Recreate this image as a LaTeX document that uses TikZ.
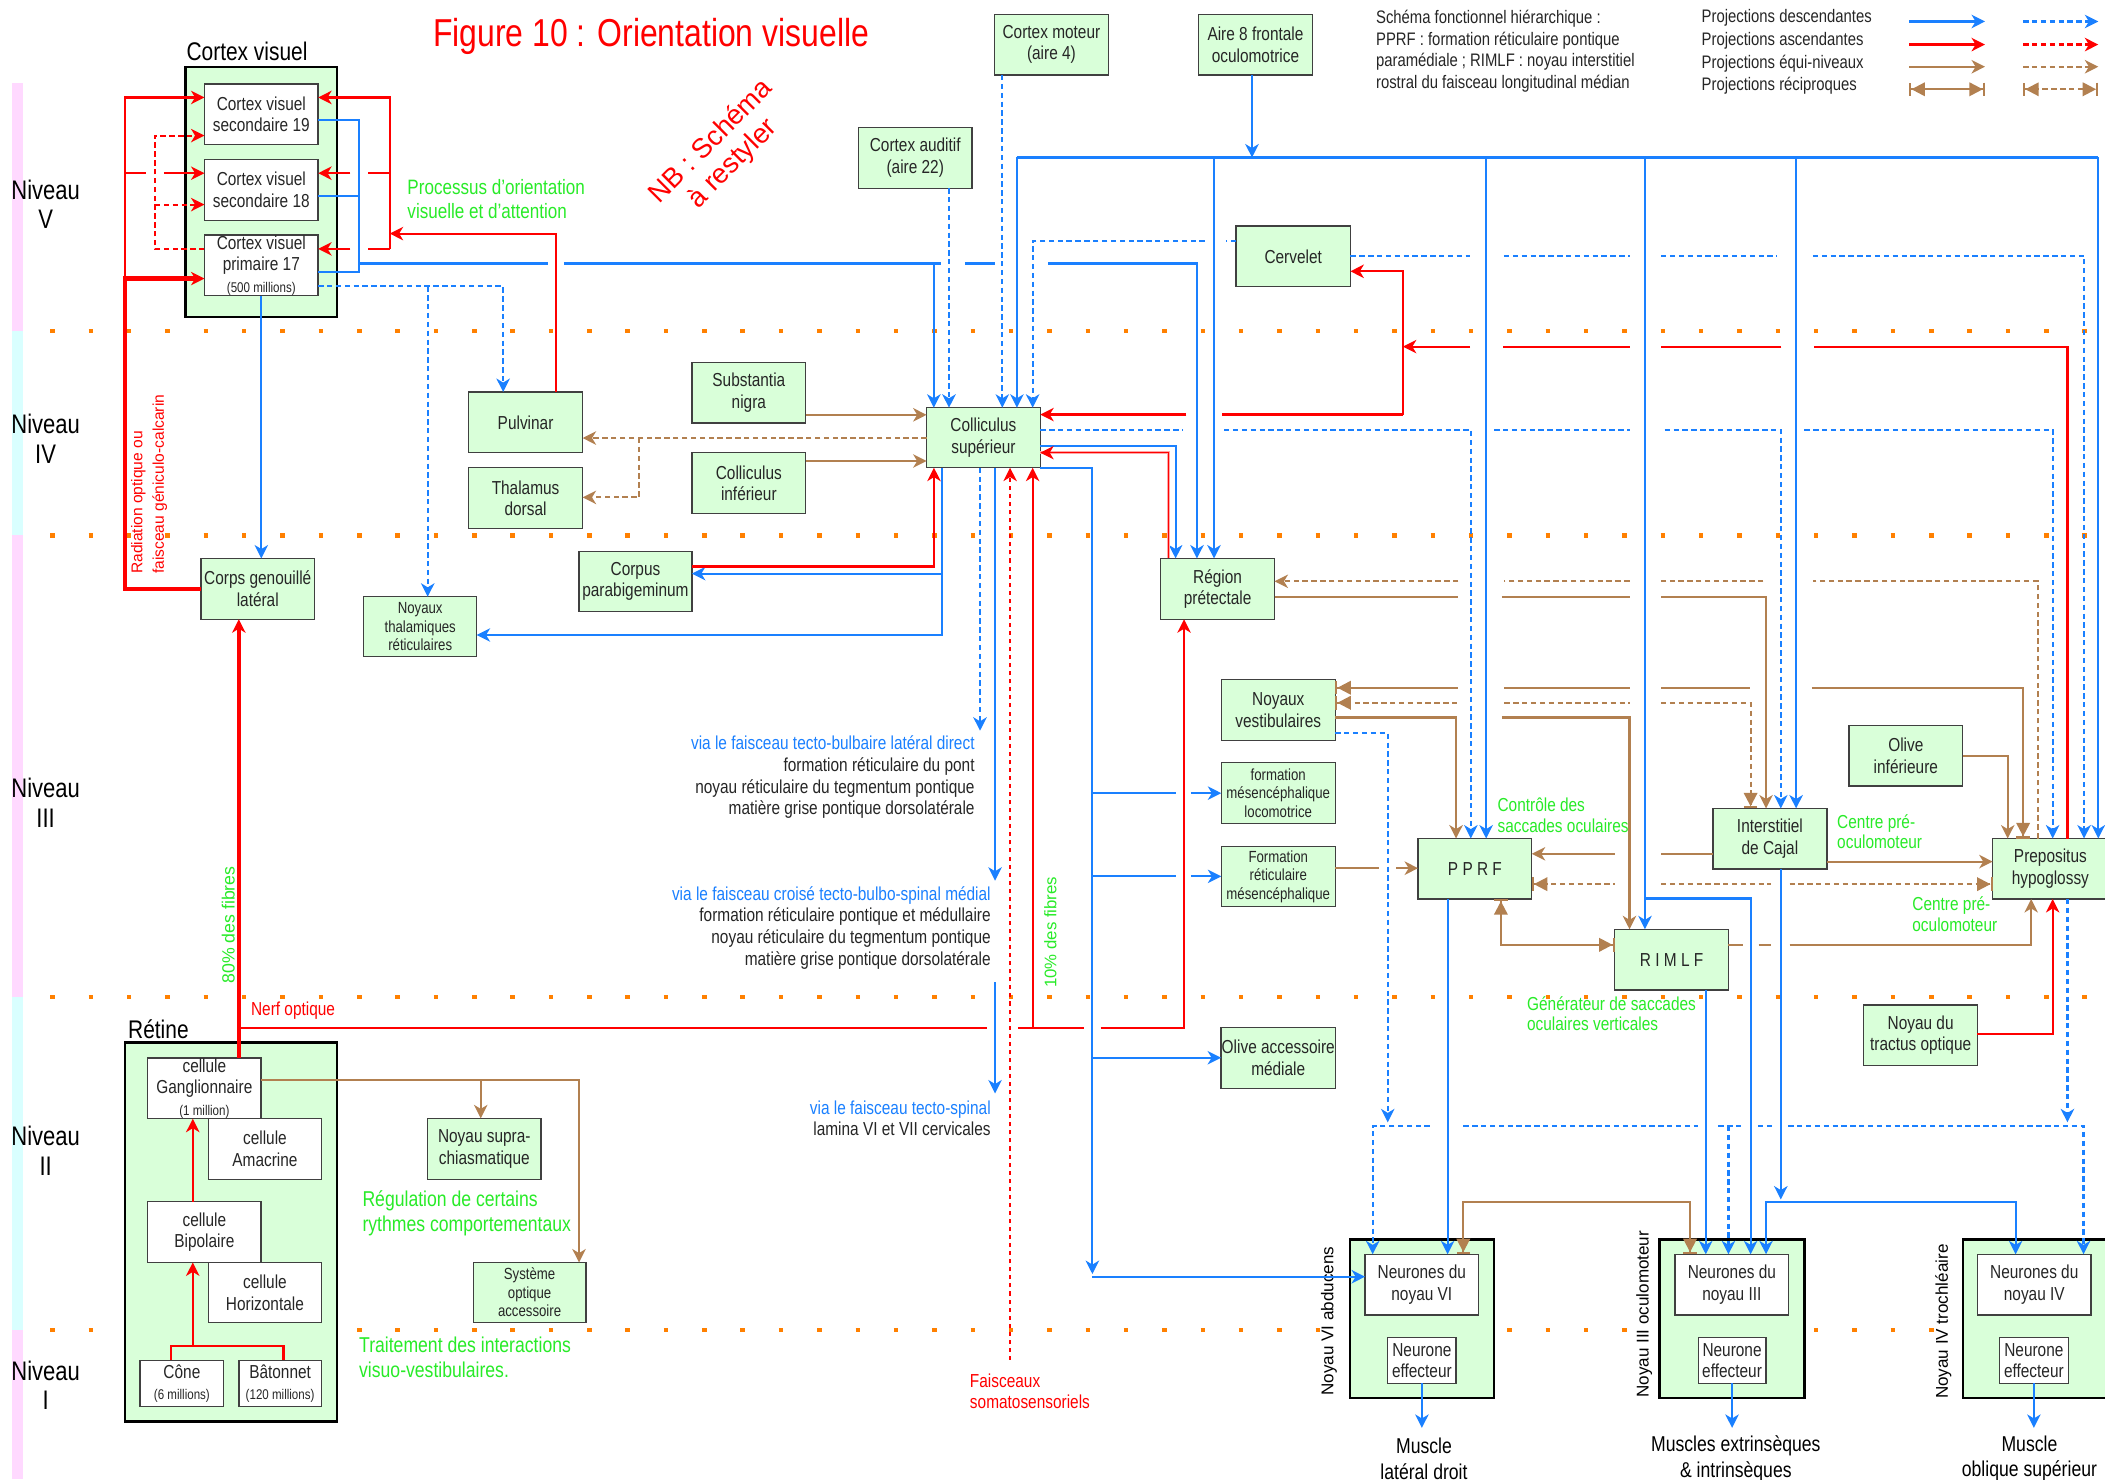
\documentclass[tikz,border=0pt]{standalone}
\usepackage{fontspec}
\setmainfont{Liberation Sans}[FakeStretch=0.82]
\newfontfamily\widefont{Liberation Sans}
\usetikzlibrary{arrows.meta,positioning}

\definecolor{cblue}{RGB}{26,128,255}
\definecolor{cred}{RGB}{255,0,0}
\definecolor{cbrown}{RGB}{178,128,80}
\definecolor{cgreen}{RGB}{40,235,40}
\definecolor{corange}{RGB}{255,128,0}
\definecolor{boxgreen}{RGB}{217,255,217}
\definecolor{bandpink}{RGB}{255,217,255}
\definecolor{bandcyan}{RGB}{217,255,255}

\newcommand\boxtxt{\fontsize{14}{16}\selectfont}
\newcommand\smalltxt{\fontsize{12}{13.8}\selectfont}
\newcommand\mintxt{\fontsize{10.5}{12}\selectfont}
\newcommand\lbltxt{\fontsize{14}{15.5}\selectfont}
\newcommand\viatxt{\fontsize{14}{16.2}\selectfont}

\tikzset{
  box/.style={draw=black!75, fill=boxgreen, line width=1pt, inner sep=0.5pt, outer sep=0pt,
    align=center, text=black!85, font=\boxtxt},
  cell/.style={box, fill=white},
  bigbox/.style={draw=black, line width=2pt, fill=boxgreen, inner sep=0pt, outer sep=0pt},
  sz/.style 2 args={minimum width=#1pt, minimum height=#2pt},
  desc/.style={draw=cblue, line width=1.6pt},
  asc/.style={draw=cred, line width=1.6pt},
  equi/.style={draw=cbrown, line width=1.6pt},
  dsh/.style={dash pattern=on 4pt off 2.6pt},
  recip/.style={{Bar[width=10pt]Triangle[length=10pt,width=10pt]}-{Triangle[length=10pt,width=10pt]Bar[width=10pt]}},
  recipstart/.style={{Bar[width=10pt]Triangle[length=10pt,width=10pt]}-},
  recipend/.style={-{Triangle[length=10pt,width=10pt]Bar[width=10pt]}},
  note/.style={font=\lbltxt, text=cgreen, align=left, anchor=west},
  levelrow/.style={corange, line width=3.3pt, dash pattern=on 3.3pt off 25.26pt},
}

\begin{document}
\begin{tikzpicture}[x=1pt, y=-1pt, >={Stealth[length=10pt,width=10pt,inset=3pt]}]
\path[use as bounding box, fill=white] (0,0) rectangle (1568,1102);

% bandes et niveaux
\fill[bandpink] (9,62) rectangle (17,246.5);
\fill[bandcyan] (9,246.5) rectangle (17,398.8);
\fill[bandpink] (9,398.8) rectangle (17,742.8);
\fill[bandcyan] (9,742.8) rectangle (17,990.5);
\fill[bandpink] (9,990.5) rectangle (17,1102);
\foreach \y in {246.5,398.8,742.8,990.5}
  \draw[levelrow] (37.5,\y) -- (1572,\y);
\foreach \y/\n in {152/V,327/IV,598/III,857/II,1032/I}
  \node[font=\fontsize{20}{22}\selectfont, align=center] (niv\n) at (34,\y) {Niveau\\\n};

% niveau V
\node[font=\fontsize{19}{21}\selectfont] (cvtitle) at (184,38.5) {Cortex visuel};
\node[bigbox, sz={112.7}{186.4}] (cvbox) at (194.65,143) {};
\node[cell, sz={84.7}{45.2}] (cv19) at (194.65,85.1) {Cortex visuel\\secondaire 19};
\node[cell, sz={84.7}{45.2}] (cv18) at (194.65,141.5) {Cortex visuel\\secondaire 18};
\node[cell, sz={84.7}{45.2}] (cv17) at (194.65,197.6) {Cortex visuel\\primaire 17\\{\mintxt (500 millions)}};
\node[box, sz={84.5}{45.2}] (caud) at (681.75,117.6) {Cortex auditif\\(aire 22)};
\node[box, sz={84.8}{45.3}] (cmot) at (783.2,33.25) {Cortex moteur\\(aire 4)};
\node[box, sz={85.2}{45.3}] (aire8) at (935.2,33.25) {Aire 8 frontale\\oculomotrice};
\node[box, sz={85.2}{45.2}] (cerv) at (963.3,191) {Cervelet};

% niveau IV
\node[box, sz={85}{45.2}] (pulv) at (391.5,314.6) {Pulvinar};
\node[box, sz={85}{45.2}] (thal) at (391.5,371) {Thalamus\\dorsal};
\node[box, sz={84.8}{45.2}] (snigra) at (557.8,292.55) {Substantia\\nigra};
\node[box, sz={84.8}{45.2}] (colinf) at (557.8,359.8) {Colliculus\\inférieur};
\node[box, sz={84.7}{44.7}] (colsup) at (732.55,326.05) {Colliculus\\supérieur};

% niveau III
\node[box, sz={84.8}{45.3}] (cgl) at (192,438.65) {Corps genouillé\\latéral};
\node[box, sz={84.1}{44.7}, font=\smalltxt] (ntr) at (313,466.85) {Noyaux\\thalamiques\\réticulaires};
\node[box, sz={84.1}{44.6}] (corpus) at (473.35,433.1) {Corpus\\parabigeminum};
\node[box, sz={84.8}{45.3}] (regp) at (907,438.65) {Région\\prétectale};
\node[box, sz={84.9}{45.2}] (nvest) at (952.15,528.8) {Noyaux\\vestibulaires};
\node[box, sz={84.9}{45.2}, font=\smalltxt] (fml) at (952.15,590.8) {formation\\mésencéphalique\\locomotrice};
\node[box, sz={84.9}{45}, font=\smalltxt] (frm) at (952.15,652.9) {Formation\\réticulaire\\mésencéphalique};
\node[box, sz={84.7}{45.1}] (pprf) at (1098.65,647.15) {P P R F};
\node[box, sz={84.7}{45.2}] (rimlf) at (1245.15,714.8) {R I M L F};
\node[box, sz={84.8}{45}] (cajal) at (1318.4,624.7) {Interstitiel\\de Cajal};
\node[box, sz={84.7}{45.2}] (olive) at (1419.65,562.9) {Olive\\inférieure};
\node[box, sz={86}{45.1}] (prep) at (1527.3,647.15) {Prepositus\\hypoglossy};
\node[box, sz={84.7}{45.2}] (nto) at (1430.65,771.2) {Noyau du\\tractus optique};
\node[box, sz={84.9}{45.2}] (oam) at (952.15,788.1) {Olive accessoire\\médiale};

% niveaux II et I
\node[font=\fontsize{19}{21}\selectfont] (rettitle) at (118,766.5) {Rétine};
\node[bigbox, sz={157.9}{281.9}] (retine) at (172.05,917.65) {};
\node[cell, sz={84.5}{44.6}] (gangl) at (152.25,810.7) {cellule\\Ganglionnaire\\{\mintxt (1 million)}};
\node[cell, sz={84.1}{45.5}] (amac) at (197.35,855.75) {cellule\\Amacrine};
\node[cell, sz={84.5}{45.2}] (bipo) at (152.25,917.8) {cellule\\Bipolaire};
\node[cell, sz={84.1}{44.9}] (horiz) at (197.35,962.85) {cellule\\Horizontale};
\node[cell, sz={62.2}{34.1}] (cone) at (135.5,1030.45) {Cône\\{\mintxt (6 millions)}};
\node[cell, sz={61.5}{34.1}] (baton) at (208.65,1030.45) {Bâtonnet\\{\mintxt (120 millions)}};
\node[box, sz={84.5}{45.5}] (nsc) at (360.75,855.75) {Noyau supra-\\chiasmatique};
\node[box, sz={84}{44.9}, font=\smalltxt] (soa) at (394.5,962.85) {Système\\optique\\accessoire};

\node[bigbox, sz={107.3}{117.9}] (n6box) at (1059.25,982.35) {};
\node[cell, sz={84.6}{45.3}] (n6) at (1059.1,956.95) {Neurones du\\noyau VI};
\node[cell, sz={50.9}{34}] (e6) at (1059.15,1013.5) {Neurone\\effecteur};
\node[bigbox, sz={107.8}{117.9}] (n3box) at (1290.2,982.35) {};
\node[cell, sz={84.7}{45.3}] (n3) at (1290.05,956.95) {Neurones du\\noyau III};
\node[cell, sz={50.4}{34}] (e3) at (1290.2,1013.5) {Neurone\\effecteur};
\node[bigbox, sz={110}{117.9}] (n4box) at (1517.3,982.35) {};
\node[cell, sz={84.6}{45.3}] (n4) at (1515.3,956.95) {Neurones du\\noyau IV};
\node[cell, sz={51.6}{34}] (e4) at (1515,1013.5) {Neurone\\effecteur};
\node[rotate=90, font=\widefont\fontsize{12.7}{15}\selectfont] (lab6) at (990,984) {Noyau VI abducens};
\node[rotate=90, font=\widefont\fontsize{12.7}{15}\selectfont] (lab3) at (1224.8,979) {Noyau III oculomoteur};
\node[rotate=90, font=\widefont\fontsize{12.7}{15}\selectfont] (lab4) at (1447.5,984.5) {Noyau IV trochléaire};
\node[font=\fontsize{16}{19}\selectfont, align=center] (mus6) at (1060.7,1086.5) {Muscle\\latéral droit};
\node[font=\fontsize{16}{19}\selectfont, align=center] (mus3) at (1293,1086.5) {Muscles extrinsèques\\\& intrinsèques};
\node[font=\fontsize{16}{19}\selectfont, align=center] (mus4) at (1511.7,1086.5) {Muscle\\oblique supérieur};

% titre, remarques et legende
\node[text=cred, font=\fontsize{29}{32}\selectfont] (titre) at (485,27) {Figure 10 : Orientation visuelle};
\node[text=cred, rotate=45, align=center, font=\widefont\fontsize{20.5}{23}\selectfont] (nb) at (538,114) {NB : Schéma\\à restyler};
\node[anchor=west, align=left, font=\fontsize{13.5}{16}\selectfont, text=black!85] (leg) at (1021.5,38) {Schéma fonctionnel hiérarchique :\\PPRF : formation réticulaire pontique\\paramédiale ; RIMLF : noyau interstitiel\\rostral du faisceau longitudinal médian};
\node[anchor=west, font=\fontsize{13.5}{16}\selectfont, text=black!85] (legd) at (1264,13.5) {Projections descendantes};
\node[anchor=west, font=\fontsize{13.5}{16}\selectfont, text=black!85] (lega) at (1264,30.5) {Projections ascendantes};
\node[anchor=west, font=\fontsize{13.5}{16}\selectfont, text=black!85] (lege) at (1264,47.5) {Projections équi-niveaux};
\node[anchor=west, font=\fontsize{13.5}{16}\selectfont, text=black!85] (legr) at (1264,64) {Projections réciproques};
\draw[desc,->] (1422.2,16) -- (1478.6,16);
\draw[desc,dsh,->] (1507,16) -- (1563,16);
\draw[asc,->] (1422.2,33.2) -- (1478.6,33.2);
\draw[asc,dsh,->] (1507,33.2) -- (1563,33.2);
\draw[equi,->] (1422.2,49.7) -- (1478.6,49.7);
\draw[equi,dsh,->] (1507,49.7) -- (1563,49.7);
\draw[equi,recip] (1422.2,66.5) -- (1478.6,66.5);
\draw[equi,dsh,recip] (1507,66.5) -- (1563,66.5);

\node[note, font=\fontsize{15.5}{18}\selectfont] (nproc) at (300,148) {Processus d'orientation\\visuelle et d'attention};
\node[note] (nsacc) at (1112,607) {Contrôle des\\saccades oculaires};
\node[note] (ncpo1) at (1365,619.5) {Centre pré-\\oculomoteur};
\node[note] (ncpo2) at (1421,681) {Centre pré-\\oculomoteur};
\node[note] (ngen) at (1134,755) {Générateur de saccades\\oculaires verticales};
\node[note, font=\fontsize{16}{18.5}\selectfont] (nreg) at (266.5,903.5) {Régulation de certains\\rythmes comportementaux};
\node[note, font=\fontsize{16}{19}\selectfont] (ntrait) at (264,1011) {Traitement des interactions\\visuo-vestibulaires.};
\node[anchor=west, text=cred, font=\lbltxt] (nerf) at (183.5,752.5) {Nerf optique};
\node[anchor=west, text=cred, align=left, font=\lbltxt] (fsomat) at (719,1036.5) {Faisceaux\\somatosensoriels};
\node[text=cred, rotate=90, anchor=west, align=left, font=\widefont\fontsize{11.6}{16}\selectfont] (radopt) at (111,431) {Radiation optique ou\\faisceau géniculo-calcarin};
\node[text=cgreen, rotate=90, font=\widefont\fontsize{13.2}{15}\selectfont] (f80) at (170,689) {80\% des fibres};
\node[text=cgreen, rotate=90, font=\widefont\fontsize{12.5}{15}\selectfont] (f10) at (782.5,694.5) {10\% des fibres};
\node[anchor=east, align=right, font=\viatxt, text=black!85] (tbulb) at (729.5,579) {\textcolor{cblue}{via le faisceau tecto-bulbaire latéral direct}\\formation réticulaire du pont\\noyau réticulaire du tegmentum pontique\\matière grise pontique dorsolatérale};
\node[anchor=east, align=right, font=\viatxt, text=black!85] (tcrois) at (741.5,691) {\textcolor{cblue}{via le faisceau croisé tecto-bulbo-spinal médial}\\formation réticulaire pontique et médullaire\\noyau réticulaire du tegmentum pontique\\matière grise pontique dorsolatérale};
\node[anchor=east, align=right, font=\viatxt, text=black!85] (tspin) at (741.5,833) {\textcolor{cblue}{via le faisceau tecto-spinal}\\lamina VI et VII cervicales};

% cortex visuel
\draw[asc, line width=3.2pt, ->] (cgl.west) -| (93,207.5) -- (cv17.west |- 0,207.5);
\draw[asc, ->] (93,207.5) -- (93,72.6) -- (cv19.west |- 0,72.6);
\draw[asc, ->] (93,129) -- (109,129) (122,129) -- (cv18.west |- 0,129);
\draw[asc, dsh, ->] (cv17.west |- 0,185.4) -| (115.4,101) -- (cv19.west |- 0,101);
\draw[asc, dsh, ->] (115.4,152.4) -- (cv18.west |- 0,152.4);
\draw[asc, ->] (414,0 |- pulv.north) |- (290.3,174);
\draw[asc, ->] (290.3,185.4) -- (290.3,72.6) -- (cv19.east |- 0,72.6);
\draw[asc, ->] (290.3,129) -- (274,129) (261,129) -- (cv18.east |- 0,129);
\draw[asc, ->] (290.3,185.4) -- (274,185.4) (261,185.4) -- (cv17.east |- 0,185.4);
\draw[desc] (cv19.east |- 0,89.4) -| (267.6,202.4) -- (cv17.east |- 0,202.4);
\draw[desc] (cv18.east |- 0,145.7) -- (267.6,145.7);
\draw[desc, ->] (267.6,196.3) -- (408,196.3) (420,196.3) -| (695.6,0 |- colsup.north);
\draw[desc] (695.6,196.3) -- (700.8,196.3) (718.8,196.3) -- (740.8,196.3);
\draw[desc, ->] (781,196.3) -| (891.6,0 |- regp.north);
\draw[desc, ->] (cv17.south) -- (cv17.south |- cgl.north);
\draw[desc, dsh, ->] (cv17.east |- 0,213.3) -| (374.8,0 |- pulv.north);
\draw[desc, dsh, ->] (318.6,213.3) -- (318.6,0 |- ntr.north);

% colliculus superieur
\draw[equi, dsh, ->] (colsup.west |- 0,326.3) -- (pulv.east |- 0,326.3);
\draw[equi, dsh, ->] (476.2,326.3) |- (thal.east |- 0,370.5);
\draw[equi, ->] (snigra.east |- 0,309) -- (colsup.west |- 0,309);
\draw[equi, ->] (colinf.east |- 0,343.4) -- (colsup.west |- 0,343.4);
\draw[desc, dsh, ->] (706.9,0 |- caud.south) -- (706.9,0 |- colsup.north);
\draw[desc, dsh, ->] (746.6,0 |- cmot.south) -- (746.6,0 |- colsup.north);
\draw[desc, ->] (932.6,0 |- aire8.south) -- (932.6,117.3);
\draw[desc] (757.5,117.3) -- (1563,117.3);
\draw[desc, ->] (757.5,117.3) -- (757.5,0 |- colsup.north);
\draw[desc, ->] (904.3,117.3) -- (904.3,0 |- regp.north);
\draw[desc, ->] (1107,117.3) -- (1107,0 |- pprf.north);
\draw[desc, ->] (1225.3,117.3) -- (1225.3,0 |- rimlf.north);
\draw[desc, ->] (1225.3,669.3) -| (1304,0 |- n3.north);
\draw[desc, ->] (1337.9,117.3) -- (1337.9,0 |- cajal.north);
\draw[desc, ->] (1563,117.3) -- (1563,0 |- prep.north);
\draw[desc, dsh, ->] (cerv.west |- 0,179.6) -- (913,179.6) (897.4,179.6) -| (769.2,0 |- colsup.north);
\draw[desc, dsh, ->] (cerv.east |- 0,190.4) -- (1094.9,190.4) (1120.3,190.4) -- (1213.8,190.4) (1237.3,190.4) -- (1323.9,190.4) (1350.4,190.4) -| (1552.4,0 |- prep.north);
\draw[asc, ->] (1540,0 |- prep.north) |- (1351,258.2) (1327,258.2) -- (1237.3,258.2) (1213.8,258.2) -- (1119.5,258.2) (1095,258.2) -- (1045,258.2);
\draw[asc, ->] (1045,308.8) -- (1045,202.1) -- (cerv.east |- 0,202.1);
\draw[asc, ->] (1045,308.8) -- (910,308.8) (883.8,308.8) -- (colsup.east |- 0,308.8);
\draw[desc, dsh] (colsup.east |- 0,320) -- (881,320);
\draw[desc, dsh, ->] (911.8,320) -| (1095.6,0 |- pprf.north);
\draw[desc, dsh, ->] (1113,320) -- (1213.8,320) (1240,320) -| (1326.5,0 |- cajal.north);
\draw[desc, dsh, ->] (1344,320) -| (1529,0 |- prep.north);
\draw[desc, ->] (colsup.east |- 0,332) -| (875.7,0 |- regp.north);
\draw[asc, line width=0.9pt, preaction={draw=cred!35, line width=2.6pt, -}, ->] (870.3,0 |- regp.north) |- (colsup.east |- 0,337.2);
\draw[desc, ->] (701.4,0 |- colsup.south) |- (ntr.east |- 0,473);
\draw[desc, ->] (701.4,427.3) -- (corpus.east |- 0,427.3);
\draw[asc, ->] (corpus.east |- 0,422) -| (695.7,0 |- colsup.south);
\draw[desc, dsh, ->] (730,0 |- colsup.south) -- (730,544.3);
\draw[desc, ->] (741.2,0 |- colsup.south) -- (741.2,656);
\draw[desc, ->] (741.2,731.8) -- (741.2,814.5);
\draw[asc, dash pattern=on 3pt off 3pt, line width=1.3pt, ->] (752.4,1013) -- (752.4,0 |- colsup.south);
\draw[asc, ->] (769.2,765.5) -- (769.2,0 |- colsup.south);
\draw[asc, line width=3.2pt, ->] (177.9,0 |- gangl.north) -- (177.9,0 |- cgl.south);
\draw[asc, ->] (177.9,765.5) -- (735,765.5) (758.3,765.5) -- (807.8,765.5) (819.8,765.5) -| (882,0 |- regp.south);
\draw[desc, ->] (colsup.south east) -- (813.7,348.4) -- (813.7,949);
\draw[desc, ->] (813.7,590.8) -- (876,590.8) (887,590.8) -- (fml.west);
\draw[desc, ->] (813.7,652.8) -- (876,652.8) (887,652.8) -- (frm.west |- 0,652.8);
\draw[desc, ->] (813.7,787.9) -- (oam.west |- 0,787.9);
\draw[desc, ->] (813.7,951) -- (n6.west |- 0,951);

% noyaux vestibulaires et region pretectale
\draw[equi, recipstart] (nvest.east |- 0,512.3) -- (1086,512.3);
\draw[equi, recipend] (1120.6,512.3) -- (1213.8,512.3) (1237.3,512.3) -- (1303.6,512.3) (1349.6,512.3) -| (1507,0 |- prep.north);
\draw[equi, dsh, recipstart] (nvest.east |- 0,523.5) -- (1086,523.5);
\draw[equi, dsh, recipend] (1120.6,523.5) -- (1213.8,523.5) (1237.3,523.5) -| (1304,0 |- cajal.north);
\draw[equi, ->] (nvest.east |- 0,534.5) -| (1084.6,0 |- pprf.north);
\draw[equi, ->] (1118.8,534.5) -| (1213.8,0 |- rimlf.north);
\draw[desc, dsh, ->] (nvest.east |- 0,546) -| (1033.7,836);
\draw[equi, ->] (frm.east |- 0,646.7) -- (1027,646.7) (1040,646.7) -- (pprf.west |- 0,646.7);
\draw[equi, dsh, ->] (1517.8,0 |- prep.north) |- (1350.5,433) (1313.6,433) -- (1237.3,433) (1213.8,433) -- (1120.6,433) (1086.4,433) -- (regp.east |- 0,433);
\draw[equi, ->] (regp.east |- 0,444.6) -- (1086.4,444.6) (1118.8,444.6) -- (1213.8,444.6) (1237.3,444.6) -| (1315.5,0 |- cajal.north);

% PPRF, RIMLF, Cajal, prepositus
\draw[equi, ->] (cajal.west |- 0,636) -- (1237.3,636) (1202.8,636) -- (pprf.east |- 0,636);
\draw[equi, dsh, recipstart] (pprf.east |- 0,658.6) -- (1202.8,658.6);
\draw[equi, dsh, recipend] (1237.3,658.6) -- (1319.5,658.6) (1333,658.6) -- (prep.west |- 0,658.6);
\draw[equi, recip] (1118,0 |- pprf.south) |- (rimlf.west |- 0,703.8);
\draw[desc, ->] (1078.3,0 |- pprf.south) -- (1078.3,0 |- n6.north);
\draw[equi, ->] (rimlf.east |- 0,703.8) -- (1298,703.8) (1310,703.8) -- (1319.5,703.8) (1333,703.8) -| (1513,0 |- prep.south);
\draw[desc, ->] (1270.6,0 |- rimlf.south) -- (1270.6,0 |- n3.north);
\draw[equi, ->] (cajal.east |- 0,641.8) -- (prep.west |- 0,641.8);
\draw[desc, ->] (1326.5,0 |- cajal.south) -- (1326.5,893.5);
\draw[desc, <->] (1315.5,0 |- n3.north) |- (1501.4,895.2) -- (1501.4,0 |- n4.north);
\draw[equi, ->] (olive.east |- 0,563) -| (1495.5,0 |- prep.north);
\draw[asc, ->] (nto.east |- 0,770.3) -| (1529,0 |- prep.south);
\draw[desc, dsh, ->] (1540,0 |- prep.south) -- (1540,836);
\draw[desc, dsh, ->] (1065,838.8) -| (1022.5,0 |- n6.north);
\draw[desc, dsh, ->] (1090,838.8) -- (1265,838.8) (1280,838.8) -- (1298.5,838.8) (1309.6,838.8) -- (1320.7,838.8) (1332,838.8) -| (1552,0 |- n4.north);
\draw[desc, dsh, ->] (1287.5,838.8) -- (1287.5,0 |- n3.north);
\draw[equi, recip] (1090,0 |- n6.north) |- (1258.9,895.2) -- (1258.9,0 |- n3.north);
\draw[desc, ->] (e6.south) -- (e6.south |- 0,1063.6);
\draw[desc, ->] (e3.south) -- (e3.south |- 0,1063.6);
\draw[desc, ->] (e4.south) -- (e4.south |- 0,1063.6);

% retine
\draw[asc] (127.4,0 |- cone.north) |- (211.2,1002.8) -- (211.2,0 |- baton.north);
\draw[asc, ->] (143.6,1002.8) -- (143.6,0 |- bipo.south);
\draw[asc, ->] (143.6,0 |- bipo.north) -- (143.6,0 |- gangl.south);
\draw[equi, line width=1.2pt, ->] (gangl.east |- 0,804.5) -| (431.3,0 |- soa.north);
\draw[equi, line width=1.2pt, ->] (358.1,804.5) -- (358.1,0 |- nsc.north);
\end{tikzpicture}
\end{document}
